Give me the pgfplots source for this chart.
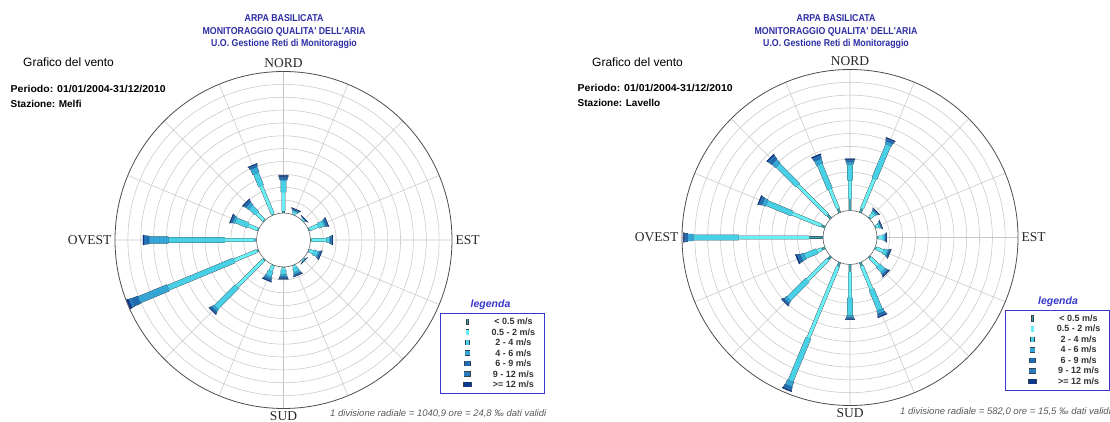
\documentclass[border=0pt]{standalone}
\usepackage{pgfplots}
\pgfplotsset{compat=1.18}
\usepgfplotslibrary{polar}
\usepackage{fontspec}
\setmainfont{Liberation Sans}
\newfontfamily\serifl{Liberation Serif}
\newfontfamily\titlef[FakeStretch=0.88]{Liberation Sans}
\newfontfamily\infof[FakeStretch=1.05]{Liberation Sans}
\newcommand\fs[1]{\fontsize{#1}{#1}\selectfont}

\definecolor{cA}{RGB}{58,163,176}
\definecolor{cB}{RGB}{104,238,245}
\definecolor{cC}{RGB}{72,208,230}
\definecolor{cD}{RGB}{52,165,212}
\definecolor{cE}{RGB}{32,108,178}
\definecolor{cF}{RGB}{42,122,192}
\definecolor{cG}{RGB}{14,56,138}
\definecolor{edge}{RGB}{55,65,75}
\definecolor{titleblue}{RGB}{45,45,165}
\definecolor{legblue}{RGB}{55,55,205}

\pgfplotsset{
  rose/.style={
    scale only axis, anchor=center, clip=false,
    xtick={0,22.5,45,67.5,90,112.5,135,157.5,180,202.5,225,247.5,270,292.5,315,337.5},
    xticklabels={EST,,,,NORD,,,,OVEST,,,,SUD,,,},
    xticklabel style={font=\serifl\fs{13.5}, text=black!85},
    ymin=0, ymax=13.1,
    ytick={3.1,4.1,5.1,6.1,7.1,8.1,9.1,10.1,11.1,12.1},
    yticklabels={},
    grid=major, major grid style={black!22, line width=0.55pt},
    major tick length=0pt,
    axis line style={black!70, line width=0.8pt},
    y axis line style={draw=none},
    y filter/.expression={y+2.1},
    unbounded coords=jump,
    legend style={anchor=center, draw=legblue, line width=1.3pt, fill=white,
      inner xsep=2pt, inner ysep=4.5pt, row sep=2.5pt,
      font=\bfseries\fs{9}, text=black!80,
      nodes={inner sep=0pt, text height=6.5pt, text depth=1.5pt}},
  },
  cls/.style n args={4}{no marks, line width=0.35pt, draw=edge, double=#1, double distance=#2,
    legend image code/.code={%
      \path[fill=edge, draw=none] (25pt-0.5*#3-0.5pt,-0.1pt-0.5*#4) rectangle (25pt+0.5*#3+0.5pt,0.9pt+0.5*#4);
      \path[fill=#1, draw=none] (25pt-0.5*#3,0.4pt-0.5*#4) rectangle (25pt+0.5*#3,0.4pt+0.5*#4);
      \path[draw=none] (0pt,0pt) (42pt,0pt);}},
}

\begin{document}
\begin{tikzpicture}
\useasboundingbox (0pt,0pt) rectangle (1110pt,422pt);

% ---------------- left chart: Melfi ----------------
\node[anchor=base, text=titleblue, font=\titlef\bfseries\fs{10}] at (284pt,400pt) {ARPA BASILICATA};
\node[anchor=base, text=titleblue, font=\titlef\bfseries\fs{10}] at (284pt,387.5pt) {MONITORAGGIO QUALITA' DELL'ARIA};
\node[anchor=base, text=titleblue, font=\titlef\bfseries\fs{10}] at (284pt,375pt) {U.O. Gestione Reti di Monitoraggio};
\node[anchor=base west, inner sep=0pt, font=\fs{12}] at (23pt,355pt) {Grafico del vento};
\node[anchor=base west, inner sep=0pt, font=\infof\bfseries\fs{10}] at (10.5pt,329.5pt) {Periodo: 01/01/2004-31/12/2010};
\node[anchor=base west, inner sep=0pt, font=\bfseries\fs{10}] at (10.5pt,314.5pt) {Stazione: Melfi};
\node[anchor=base, inner sep=0pt, text=legblue, font=\bfseries\itshape\fs{10.5}] at (490.5pt,114pt) {legenda};
\node[anchor=base west, inner sep=0pt, text=black!65, font=\itshape\fs{9.5}] at (330pt,5pt) {1 divisione radiale = 1040,9 ore = 24,8 ‰ dati validi};

\begin{polaraxis}[rose, at={(283.5pt,182pt)}, width=337pt, height=337pt,
  legend style={at={(1.120,0.163)}}]
\draw[black!60, fill=white, line width=0.6pt] (axis cs:0,0) circle[radius=27pt];
\addplot[cls={cA}{1.9pt}{1.7pt}{5.3pt}] coordinates {(90,0)(90,0.16)(nan,nan)(67.5,0)(67.5,0.05)(nan,nan)(45,0)(45,0.03)(nan,nan)(22.5,0)(22.5,0.08)(nan,nan)(0,0)(0,0.08)(nan,nan)(-22.5,0)(-22.5,0.06)(nan,nan)(-45,0)(-45,0.03)(nan,nan)(-67.5,0)(-67.5,0.06)(nan,nan)(-90,0)(-90,0.06)(nan,nan)(-112.5,0)(-112.5,0.06)(nan,nan)(-135,0)(-135,0.10)(nan,nan)(-157.5,0)(-157.5,0.15)(nan,nan)(180,0)(180,0.19)(nan,nan)(157.5,0)(157.5,0.08)(nan,nan)(135,0)(135,0.08)(nan,nan)(112.5,0)(112.5,0.10)};
\addplot[cls={cB}{3.1pt}{2.4pt}{5.3pt}] coordinates {(90,0.16)(90,1.63)(nan,nan)(67.5,0.05)(67.5,0.20)(nan,nan)(45,0.03)(45,0.12)(nan,nan)(22.5,0.08)(22.5,0.80)(nan,nan)(0,0.08)(0,1.25)(nan,nan)(-22.5,0.06)(-22.5,0.40)(nan,nan)(-45,0.03)(-45,0.10)(nan,nan)(-67.5,0.06)(-67.5,0.25)(nan,nan)(-90,0.06)(-90,0.23)(nan,nan)(-112.5,0.06)(-112.5,0.50)(nan,nan)(-135,0.10)(-135,3.03)(nan,nan)(-157.5,0.15)(-157.5,2.08)(nan,nan)(180,0.19)(180,2.45)(nan,nan)(157.5,0.08)(157.5,0.87)(nan,nan)(135,0.08)(135,0.83)(nan,nan)(112.5,0.10)(112.5,2.45)};
\addplot[cls={cC}{5.1pt}{3.4pt}{4.6pt}] coordinates {(90,1.63)(90,2.50)(nan,nan)(67.5,0.20)(67.5,0.30)(nan,nan)(45,0.12)(45,0.17)(nan,nan)(22.5,0.80)(22.5,1.25)(nan,nan)(0,1.25)(0,1.45)(nan,nan)(-22.5,0.40)(-22.5,0.75)(nan,nan)(-45,0.10)(-45,0.14)(nan,nan)(-67.5,0.25)(-67.5,0.55)(nan,nan)(-90,0.23)(-90,0.58)(nan,nan)(-112.5,0.50)(-112.5,0.90)(nan,nan)(-135,3.03)(-135,5.30)(nan,nan)(-157.5,2.08)(-157.5,7.60)(nan,nan)(180,2.45)(180,6.86)(nan,nan)(157.5,0.87)(157.5,1.90)(nan,nan)(135,0.83)(135,1.50)(nan,nan)(112.5,2.45)(112.5,3.48)};
\addplot[cls={cD}{6.7pt}{4.4pt}{4.6pt}] coordinates {(90,2.50)(90,2.62)(nan,nan)(67.5,0.30)(67.5,0.36)(nan,nan)(45,0.17)(45,0.19)(nan,nan)(22.5,1.25)(22.5,1.38)(nan,nan)(0,1.45)(0,1.55)(nan,nan)(-22.5,0.75)(-22.5,0.86)(nan,nan)(-45,0.14)(-45,0.16)(nan,nan)(-67.5,0.55)(-67.5,0.70)(nan,nan)(-90,0.58)(-90,0.74)(nan,nan)(-112.5,0.90)(-112.5,1.08)(nan,nan)(-135,5.30)(-135,5.50)(nan,nan)(-157.5,7.60)(-157.5,10.05)(nan,nan)(180,6.86)(180,8.35)(nan,nan)(157.5,1.90)(157.5,2.08)(nan,nan)(135,1.50)(135,1.78)(nan,nan)(112.5,3.48)(112.5,3.95)};
\addplot[cls={cE}{7.9pt}{5.4pt}{4.6pt}] coordinates {(90,2.62)(90,2.74)(nan,nan)(67.5,0.36)(67.5,0.40)(nan,nan)(45,0.19)(45,0.21)(nan,nan)(22.5,1.38)(22.5,1.46)(nan,nan)(0,1.55)(0,1.62)(nan,nan)(-22.5,0.86)(-22.5,0.93)(nan,nan)(-45,0.16)(-45,0.18)(nan,nan)(-67.5,0.70)(-67.5,0.78)(nan,nan)(-90,0.74)(-90,0.84)(nan,nan)(-112.5,1.08)(-112.5,1.18)(nan,nan)(-135,5.50)(-135,5.60)(nan,nan)(-157.5,10.05)(-157.5,10.55)(nan,nan)(180,8.35)(180,8.60)(nan,nan)(157.5,2.08)(157.5,2.18)(nan,nan)(135,1.78)(135,1.90)(nan,nan)(112.5,3.95)(112.5,4.08)};
\addplot[cls={cF}{8.7pt}{6.1pt}{4.6pt}] coordinates {(90,2.74)(90,2.83)(nan,nan)(67.5,0.40)(67.5,0.44)(nan,nan)(45,0.21)(45,0.22)(nan,nan)(22.5,1.46)(22.5,1.52)(nan,nan)(0,1.62)(0,1.68)(nan,nan)(-22.5,0.93)(-22.5,0.98)(nan,nan)(-45,0.18)(-45,0.19)(nan,nan)(-67.5,0.78)(-67.5,0.83)(nan,nan)(-90,0.84)(-90,0.90)(nan,nan)(-112.5,1.18)(-112.5,1.24)(nan,nan)(-135,5.60)(-135,5.67)(nan,nan)(-157.5,10.55)(-157.5,10.80)(nan,nan)(180,8.60)(180,8.73)(nan,nan)(157.5,2.18)(157.5,2.24)(nan,nan)(135,1.90)(135,1.97)(nan,nan)(112.5,4.08)(112.5,4.14)};
\addplot[cls={cG}{9.7pt}{7.6pt}{4.6pt}] coordinates {(90,2.83)(90,2.92)(nan,nan)(67.5,0.44)(67.5,0.48)(nan,nan)(45,0.22)(45,0.24)(nan,nan)(22.5,1.52)(22.5,1.57)(nan,nan)(0,1.68)(0,1.73)(nan,nan)(-22.5,0.98)(-22.5,1.02)(nan,nan)(-45,0.19)(-45,0.20)(nan,nan)(-67.5,0.83)(-67.5,0.87)(nan,nan)(-90,0.90)(-90,0.96)(nan,nan)(-112.5,1.24)(-112.5,1.30)(nan,nan)(-135,5.67)(-135,5.73)(nan,nan)(-157.5,10.80)(-157.5,10.96)(nan,nan)(180,8.73)(180,8.83)(nan,nan)(157.5,2.24)(157.5,2.30)(nan,nan)(135,1.97)(135,2.04)(nan,nan)(112.5,4.14)(112.5,4.20)};
\legend{\makebox[58pt]{< 0.5 m/s},\makebox[58pt]{0.5 - 2 m/s},\makebox[58pt]{2 - 4 m/s},\makebox[58pt]{4 - 6 m/s},\makebox[58pt]{6 - 9 m/s},\makebox[58pt]{9 - 12 m/s},\makebox[58pt]{>= 12 m/s}}
\end{polaraxis}

% ---------------- right chart: Lavello ----------------
\node[anchor=base, text=titleblue, font=\titlef\bfseries\fs{10}] at (836pt,400pt) {ARPA BASILICATA};
\node[anchor=base, text=titleblue, font=\titlef\bfseries\fs{10}] at (836pt,387.5pt) {MONITORAGGIO QUALITA' DELL'ARIA};
\node[anchor=base, text=titleblue, font=\titlef\bfseries\fs{10}] at (836pt,375pt) {U.O. Gestione Reti di Monitoraggio};
\node[anchor=base west, inner sep=0pt, font=\fs{12}] at (592pt,355.5pt) {Grafico del vento};
\node[anchor=base west, inner sep=0pt, font=\infof\bfseries\fs{10}] at (577.5pt,330pt) {Periodo: 01/01/2004-31/12/2010};
\node[anchor=base west, inner sep=0pt, font=\bfseries\fs{10}] at (577.5pt,315pt) {Stazione: Lavello};
\node[anchor=base, inner sep=0pt, text=legblue, font=\bfseries\itshape\fs{10.5}] at (1058pt,117pt) {legenda};
\node[anchor=base west, inner sep=0pt, text=black!65, font=\itshape\fs{9.5}] at (900pt,7pt) {1 divisione radiale = 582,0 ore = 15,5 ‰ dati validi};

\begin{polaraxis}[rose, at={(850pt,184.5pt)}, width=336pt, height=336pt,
  legend style={at={(1.1176,0.1637)}}]
\draw[black!60, fill=white, line width=0.6pt] (axis cs:0,0) circle[radius=27pt];
\addplot[cls={cA}{1.9pt}{1.7pt}{5.3pt}] coordinates {(90,0)(90,0.92)(nan,nan)(67.5,0)(67.5,0.35)(nan,nan)(45,0)(45,0.12)(nan,nan)(22.5,0)(22.5,0.10)(nan,nan)(0,0)(0,0.12)(nan,nan)(-22.5,0)(-22.5,0.12)(nan,nan)(-45,0)(-45,0.15)(nan,nan)(-67.5,0)(-67.5,0.30)(nan,nan)(-90,0)(-90,0.60)(nan,nan)(-112.5,0)(-112.5,0.35)(nan,nan)(-135,0)(-135,0.35)(nan,nan)(-157.5,0)(-157.5,0.30)(nan,nan)(180,0)(180,1.11)(nan,nan)(157.5,0)(157.5,0.35)(nan,nan)(135,0)(135,0.40)(nan,nan)(112.5,0)(112.5,0.35)};
\addplot[cls={cB}{3.1pt}{2.4pt}{5.3pt}] coordinates {(90,0.92)(90,2.35)(nan,nan)(67.5,0.35)(67.5,2.87)(nan,nan)(45,0.12)(45,0.45)(nan,nan)(22.5,0.10)(22.5,0.28)(nan,nan)(0,0.12)(0,0.40)(nan,nan)(-22.5,0.12)(-22.5,0.70)(nan,nan)(-45,0.15)(-45,1.00)(nan,nan)(-67.5,0.30)(-67.5,2.29)(nan,nan)(-90,0.60)(-90,2.61)(nan,nan)(-112.5,0.35)(-112.5,6.38)(nan,nan)(-135,0.35)(-135,2.60)(nan,nan)(-157.5,0.30)(-157.5,0.68)(nan,nan)(180,1.11)(180,6.59)(nan,nan)(157.5,0.35)(157.5,2.78)(nan,nan)(135,0.40)(135,3.66)(nan,nan)(112.5,0.35)(112.5,2.00)};
\addplot[cls={cC}{5.1pt}{3.4pt}{4.6pt}] coordinates {(90,2.35)(90,3.60)(nan,nan)(67.5,2.87)(67.5,5.70)(nan,nan)(45,0.45)(45,0.62)(nan,nan)(22.5,0.28)(22.5,0.40)(nan,nan)(0,0.40)(0,0.56)(nan,nan)(-22.5,0.70)(-22.5,0.98)(nan,nan)(-45,1.00)(-45,1.55)(nan,nan)(-67.5,2.29)(-67.5,3.98)(nan,nan)(-90,2.61)(-90,4.00)(nan,nan)(-112.5,6.38)(-112.5,10.00)(nan,nan)(-135,2.60)(-135,4.65)(nan,nan)(-157.5,0.68)(-157.5,1.70)(nan,nan)(180,6.59)(180,10.12)(nan,nan)(157.5,2.78)(157.5,4.90)(nan,nan)(135,3.66)(135,5.85)(nan,nan)(112.5,2.00)(112.5,4.08)};
\addplot[cls={cD}{6.7pt}{4.4pt}{4.6pt}] coordinates {(90,3.60)(90,3.78)(nan,nan)(67.5,5.70)(67.5,5.92)(nan,nan)(45,0.62)(45,0.70)(nan,nan)(22.5,0.40)(22.5,0.45)(nan,nan)(0,0.56)(0,0.65)(nan,nan)(-22.5,0.98)(-22.5,1.08)(nan,nan)(-45,1.55)(-45,1.72)(nan,nan)(-67.5,3.98)(-67.5,4.25)(nan,nan)(-90,4.00)(-90,4.15)(nan,nan)(-112.5,10.00)(-112.5,10.40)(nan,nan)(-135,4.65)(-135,4.88)(nan,nan)(-157.5,1.70)(-157.5,2.00)(nan,nan)(180,10.12)(180,10.55)(nan,nan)(157.5,4.90)(157.5,5.22)(nan,nan)(135,5.85)(135,6.25)(nan,nan)(112.5,4.08)(112.5,4.45)};
\addplot[cls={cE}{7.9pt}{5.4pt}{4.6pt}] coordinates {(90,3.78)(90,3.90)(nan,nan)(67.5,5.92)(67.5,6.05)(nan,nan)(45,0.70)(45,0.75)(nan,nan)(22.5,0.45)(22.5,0.48)(nan,nan)(0,0.65)(0,0.70)(nan,nan)(-22.5,1.08)(-22.5,1.15)(nan,nan)(-45,1.72)(-45,1.80)(nan,nan)(-67.5,4.25)(-67.5,4.38)(nan,nan)(-90,4.15)(-90,4.22)(nan,nan)(-112.5,10.40)(-112.5,10.58)(nan,nan)(-135,4.88)(-135,4.97)(nan,nan)(-157.5,2.00)(-157.5,2.15)(nan,nan)(180,10.55)(180,10.72)(nan,nan)(157.5,5.22)(157.5,5.38)(nan,nan)(135,6.25)(135,6.48)(nan,nan)(112.5,4.45)(112.5,4.62)};
\addplot[cls={cF}{8.7pt}{6.1pt}{4.6pt}] coordinates {(90,3.90)(90,3.98)(nan,nan)(67.5,6.05)(67.5,6.13)(nan,nan)(45,0.75)(45,0.79)(nan,nan)(22.5,0.48)(22.5,0.51)(nan,nan)(0,0.70)(0,0.74)(nan,nan)(-22.5,1.15)(-22.5,1.20)(nan,nan)(-45,1.80)(-45,1.85)(nan,nan)(-67.5,4.38)(-67.5,4.46)(nan,nan)(-90,4.22)(-90,4.27)(nan,nan)(-112.5,10.58)(-112.5,10.68)(nan,nan)(-135,4.97)(-135,5.03)(nan,nan)(-157.5,2.15)(-157.5,2.26)(nan,nan)(180,10.72)(180,10.82)(nan,nan)(157.5,5.38)(157.5,5.47)(nan,nan)(135,6.48)(135,6.62)(nan,nan)(112.5,4.62)(112.5,4.72)};
\addplot[cls={cG}{9.7pt}{7.6pt}{4.6pt}] coordinates {(90,3.98)(90,4.05)(nan,nan)(67.5,6.13)(67.5,6.20)(nan,nan)(45,0.79)(45,0.82)(nan,nan)(22.5,0.51)(22.5,0.54)(nan,nan)(0,0.74)(0,0.78)(nan,nan)(-22.5,1.20)(-22.5,1.24)(nan,nan)(-45,1.85)(-45,1.90)(nan,nan)(-67.5,4.46)(-67.5,4.53)(nan,nan)(-90,4.27)(-90,4.31)(nan,nan)(-112.5,10.68)(-112.5,10.77)(nan,nan)(-135,5.03)(-135,5.09)(nan,nan)(-157.5,2.26)(-157.5,2.36)(nan,nan)(180,10.82)(180,10.90)(nan,nan)(157.5,5.47)(157.5,5.55)(nan,nan)(135,6.62)(135,6.72)(nan,nan)(112.5,4.72)(112.5,4.82)};
\legend{\makebox[58pt]{< 0.5 m/s},\makebox[58pt]{0.5 - 2 m/s},\makebox[58pt]{2 - 4 m/s},\makebox[58pt]{4 - 6 m/s},\makebox[58pt]{6 - 9 m/s},\makebox[58pt]{9 - 12 m/s},\makebox[58pt]{>= 12 m/s}}
\end{polaraxis}
\end{tikzpicture}
\end{document}
